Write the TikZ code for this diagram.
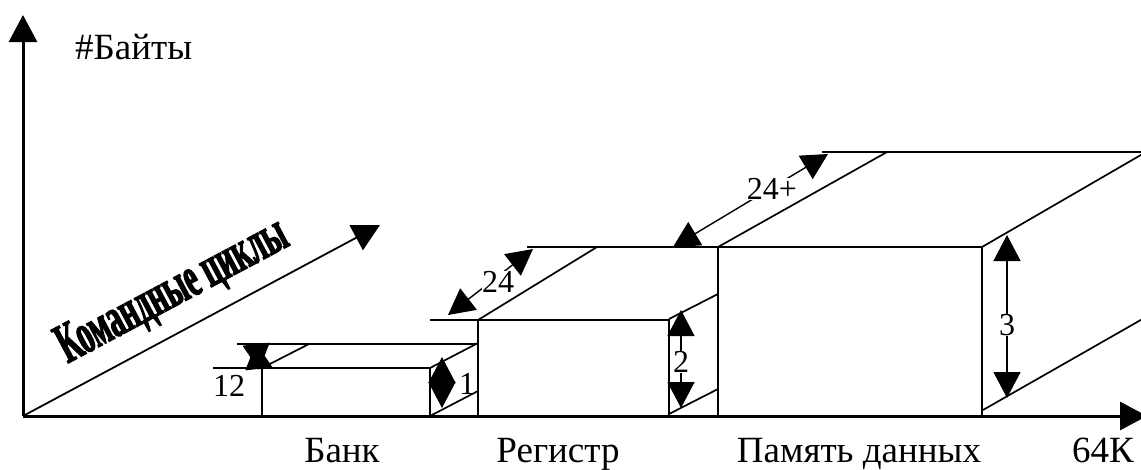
\documentclass[tikz,border=0pt]{standalone}
\usepackage{fontspec}
\setmainfont{Liberation Serif}
\newfontfamily\heavyfont{Liberation Serif}[UprightFont=* Bold, FakeBold=2, FakeStretch=0.52]
\usetikzlibrary{arrows.meta}
\begin{document}
\begin{tikzpicture}[x=1pt,y=-1pt,
  axis/.style={line width=3pt,-{Triangle[length=27pt,width=28pt]}},
  edge/.style={line width=2pt},
  depth/.style={line width=1.7pt},
  dim/.style={line width=1.4pt,{Triangle[length=26pt,width=27pt]}-{Triangle[length=26pt,width=27pt]}},
  lab/.style={font=\fontsize{32}{34}\selectfont,inner sep=0.5pt},
  captext/.style={font=\fontsize{37}{40}\selectfont,inner sep=0pt},
  line cap=butt]
\useasboundingbox (0,0) rectangle (1141,469);

% axes
\coordinate (O) at (23,416);
\coordinate (Ytip) at (23,15);
\coordinate (Xtip) at (1147,416);
\coordinate (Ztip) at (380,225);

% bank box
\coordinate (b1) at (262,368);
\coordinate (b2) at (430,368);
\coordinate (b3) at (430,416);
\coordinate (b4) at (262,416);
\coordinate (b1x) at (213,368);
\coordinate (bk1) at (309,344);
\coordinate (bkL) at (237,344);
\coordinate (bkR) at (478,344);
\coordinate (b2b) at (478,343);
\coordinate (b3b) at (478,391);

% register box
\coordinate (r1) at (478,320);
\coordinate (r2) at (669,320);
\coordinate (r3) at (669,416);
\coordinate (r4) at (478,416);
\coordinate (r1x) at (430,320);
\coordinate (rk1) at (597,247);
\coordinate (rkL) at (527,247);
\coordinate (r2a) at (669,319);
\coordinate (r2b) at (718,294);
\coordinate (r3a) at (669,414);
\coordinate (r3b) at (718,389);

% memory box
\coordinate (m1) at (718,247);
\coordinate (m2) at (982,247);
\coordinate (m3) at (982,416);
\coordinate (m4) at (718,416);
\coordinate (mk1) at (887,152);
\coordinate (mkL) at (822,152);
\coordinate (mkR) at (1146,152);
\coordinate (m2b) at (1146,152);
\coordinate (m3a) at (983,410);
\coordinate (m3b) at (1146,317);

% dimension ends
\coordinate (d12a) at (256,343);
\coordinate (d12b) at (259,370);
\coordinate (d1a) at (442,357);
\coordinate (d1b) at (442,408);
\coordinate (d2a) at (681,310);
\coordinate (d2b) at (681,408);
\coordinate (d3a) at (1007,235);
\coordinate (d3b) at (1007,398);
\coordinate (d24a) at (448,315);
\coordinate (d24b) at (533,249);
\coordinate (d24pa) at (673,247);
\coordinate (d24pb) at (828,154);

% dimension arrows
\draw[dim] (d12a) -- (d12b);
\draw[dim] (d1a) -- (d1b);
\draw[dim] (d2a) -- (d2b);
\draw[dim] (d3a) -- (d3b);
\draw[dim] (d24a) -- (d24b);
\draw[dim] (d24pa) -- (d24pb);

% dimension labels
\node[lab,fill=white] (l24) at (498,282) {24};
\node[lab,fill=white] (l24p) at (772,189) {24+};
\node[lab,fill=white] (l2) at (681,362) {2};
\node[lab,fill=white] (l3) at (1007,325) {3};
\node[lab] (l1) at (467,384) {1};
\node[lab] (l12) at (229,386) {12};

% bank box
\draw[edge] (b1x) -- (b1) -- (b2) -- (b3);
\draw[edge] (b1) -- (b4);
\draw[depth] (bkL) -- (bkR);
\draw[depth] (b1) -- (bk1);
\draw[depth] (b2) -- (b2b);
\draw[depth] (b3) -- (b3b);

% register box
\draw[edge] (r1x) -- (r1) -- (r2) -- (r3);
\draw[edge] (r1) -- (r4);
\draw[depth] (rkL) -- (m1);
\draw[depth] (r1) -- (rk1);
\draw[depth] (r2a) -- (r2b);
\draw[depth] (r3a) -- (r3b);

% memory box
\draw[edge] (m1) -- (m2) -- (m3);
\draw[edge] (m1) -- (m4);
\draw[depth] (mkL) -- (mkR);
\draw[depth] (m1) -- (mk1);
\draw[depth] (m2) -- (m2b);
\draw[depth] (m3a) -- (m3b);

% axes on top
\draw[axis] (O) -- (Ytip);
\draw[axis,line width=3pt] (O) -- (Xtip);
\draw[axis,line width=1.8pt] (O) -- (Ztip);

% texts
\node[captext,anchor=base west] (ylab) at (75,59) {\#Байты};
\node[rotate=28,inner sep=0pt] (zlab) at (173,292)
  {\fontsize{57}{60}\selectfont\heavyfont Командные циклы};
\node[captext,anchor=base] (t1) at (342,462) {Банк};
\node[captext,anchor=base] (t2) at (558,462) {Регистр};
\node[captext,anchor=base] (t3) at (859,462) {Память данных};
\node[captext,anchor=base] (t4) at (1103,462) {64К};
\end{tikzpicture}
\end{document}
